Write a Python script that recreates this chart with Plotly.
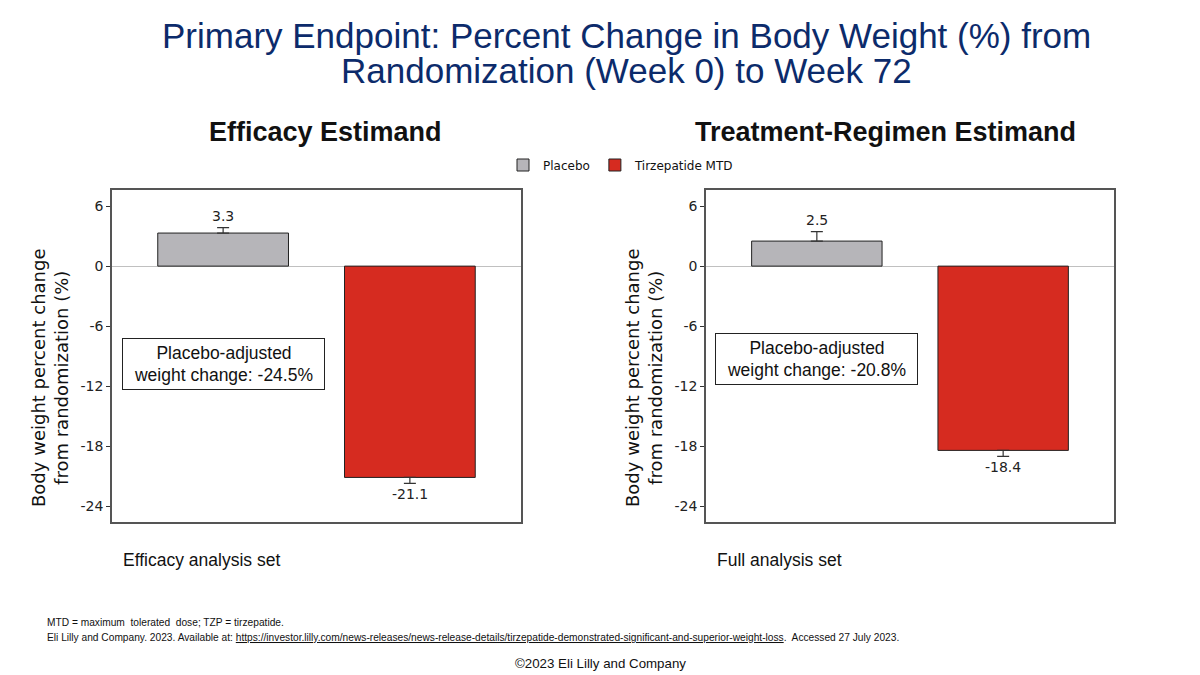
import plotly.graph_objects as go

groups = ["Placebo", "Tirzepatide MTD"]
colors = ["#b6b5b9", "#d62b20"]
panels = ["Efficacy Estimand", "Treatment-Regimen Estimand"]
values = {"Efficacy Estimand": [3.3, -21.1], "Treatment-Regimen Estimand": [2.5, -18.4]}
errors = {"Efficacy Estimand": [0.55, 0.6], "Treatment-Regimen Estimand": [0.95, 0.6]}
adjusted = {"Efficacy Estimand": "-24.5%", "Treatment-Regimen Estimand": "-20.8%"}
analysis_sets = {"Efficacy Estimand": "Efficacy analysis set", "Treatment-Regimen Estimand": "Full analysis set"}
yticks = [6, 0, -6, -12, -18, -24]

OFF = 8  # page body margin


def px(x):
    return (x - OFF) / 1200


def py(y):
    return 1 - (y - OFF) / 675


fig = go.Figure()
xdomains = [[px(112), px(521)], [px(706), px(1114)]]
ydom = [py(522), py(190)]
box_y = [-7.2, -6.7]
panel_title_x = [325, 885]
ytitle_x = [50, 644]

for p, panel in enumerate(panels):
    xa = "x" if p == 0 else "x2"
    ya = "y" if p == 0 else "y2"
    for i, g in enumerate(groups):
        v = values[panel][i]
        e = errors[panel][i]
        fig.add_trace(go.Bar(
            x=[g], y=[v], xaxis=xa, yaxis=ya, name=g, width=0.7,
            marker=dict(color=colors[i], line=dict(color="#222", width=1)),
            error_y=dict(type="data", symmetric=False,
                         array=[e if v > 0 else 0], arrayminus=[e if v < 0 else 0],
                         color="#333", thickness=1.2, width=6),
            showlegend=(p == 0), legendgroup=g, hoverinfo="skip"))
        fig.add_annotation(x=g, y=v + (e if v > 0 else -e), xref=xa, yref=ya,
                           text=f"{v:.1f}", showarrow=False, xanchor="center",
                           yanchor="bottom" if v > 0 else "top",
                           yshift=2 if v > 0 else -1,
                           font=dict(family="DejaVu Sans", size=14, color="#222"))
    # placebo-adjusted box
    fig.add_annotation(x=groups[0], y=box_y[p], xref=xa, yref=ya,
                       text=f"Placebo-adjusted<br>weight change: {adjusted[panel]}",
                       showarrow=False, xanchor="center", yanchor="top",
                       bordercolor="#222", borderwidth=1, bgcolor="white", borderpad=1,
                       width=199, height=48,
                       font=dict(family="Liberation Sans", size=17.5, color="#111"))
    # panel title
    fig.add_annotation(x=px(panel_title_x[p]), y=py(132), xref="paper", yref="paper",
                       xanchor="center", yanchor="middle",
                       text=f"<b>{panel}</b>", showarrow=False,
                       font=dict(family="Liberation Sans", size=27, color="#111"))
    # analysis set
    fig.add_annotation(x=xdomains[p][0] + 9 / 1200, y=py(560), xref="paper", yref="paper",
                       xanchor="left", yanchor="middle", text=analysis_sets[panel], showarrow=False,
                       font=dict(family="Liberation Sans", size=17.5, color="#111"))
    # y-axis title
    fig.add_annotation(x=px(ytitle_x[p]), y=py(378), xref="paper", yref="paper",
                       xanchor="center", yanchor="middle", textangle=-90,
                       text="Body weight percent change<br>from randomization (%)", showarrow=False,
                       font=dict(family="DejaVu Sans", size=18, color="#111"))

axis_common = dict(showline=True, linecolor="#555", linewidth=1.5, mirror=True)
for p in range(2):
    sx = "" if p == 0 else "2"
    fig.update_layout(**{
        f"xaxis{sx}": dict(domain=xdomains[p], range=[-0.595, 1.595], showticklabels=False,
                           ticks="", showgrid=False, zeroline=False, anchor="y" + sx,
                           **axis_common),
        f"yaxis{sx}": dict(domain=ydom, range=[-25.55, 7.6], tickvals=yticks,
                           ticktext=[str(t) for t in yticks], ticks="outside", ticklen=4,
                           tickcolor="#333", showgrid=False, zeroline=True,
                           zerolinecolor="#c0c0c0", zerolinewidth=1, anchor="x" + sx,
                           tickfont=dict(family="DejaVu Sans", size=14, color="#222"),
                           **axis_common),
    })

title_lines = ["Primary Endpoint: Percent Change in Body Weight (%) from",
               "Randomization (Week 0) to Week 72"]
for k, (line, yy) in enumerate(zip(title_lines, [35, 70])):
    fig.add_annotation(x=px(626), y=py(yy), xref="paper", yref="paper",
                       xanchor="center", yanchor="middle", text=line, showarrow=False,
                       font=dict(family="Liberation Sans", size=35, color="#0c2b6b"))

foot_font = dict(family="Liberation Sans Narrow, Liberation Sans", size=10.2, color="#111")
fig.add_annotation(x=px(45), y=py(622), xref="paper", yref="paper", xanchor="left", yanchor="middle",
                   text="MTD = maximum  tolerated  dose; TZP = tirzepatide.", showarrow=False,
                   font=foot_font)
fig.add_annotation(x=px(45), y=py(637), xref="paper", yref="paper", xanchor="left", yanchor="middle",
                   text="Eli Lilly and Company. 2023. Available at: <u>https://investor.lilly.com/news-releases/news-release-details/tirzepatide-demonstrated-significant-and-superior-weight-loss</u>.  Accessed 27 July 2023.",
                   showarrow=False, font=foot_font)
fig.add_annotation(x=px(600), y=py(663), xref="paper", yref="paper", xanchor="center", yanchor="middle",
                   text="©2023 Eli Lilly and Company", showarrow=False,
                   font=dict(family="Liberation Sans", size=13.3, color="#111"))

fig.update_layout(
    width=1200, height=675, margin=dict(l=0, r=0, t=0, b=0),
    paper_bgcolor="white", plot_bgcolor="white", barmode="overlay",
    legend=dict(orientation="h", x=px(621), xanchor="center", y=py(165), yanchor="middle",
                font=dict(family="DejaVu Sans", size=12, color="#111"), itemwidth=30,
                traceorder="normal"),
)

fig.write_html("out.html")
